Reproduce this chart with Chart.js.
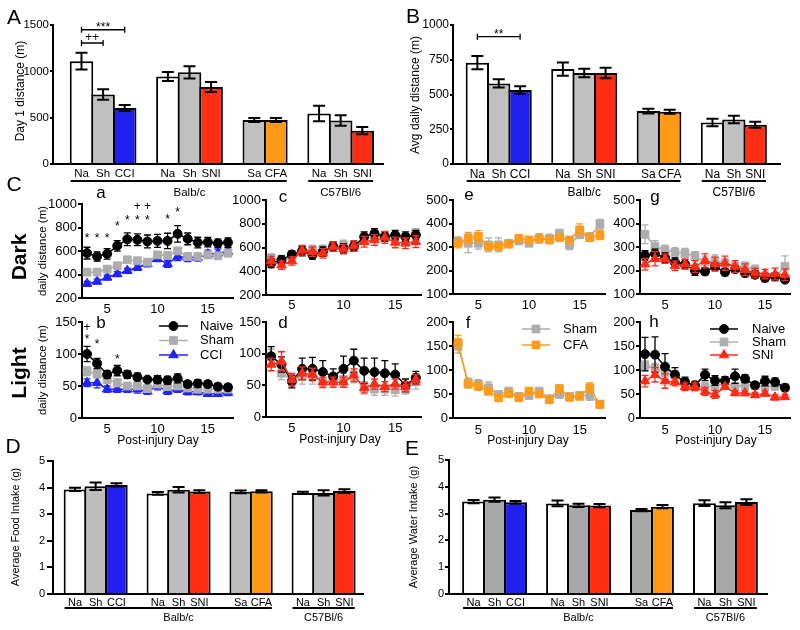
<!DOCTYPE html>
<html><head><meta charset="utf-8">
<script src="https://cdn.jsdelivr.net/npm/chart.js@4.4.1/dist/chart.umd.min.js"></script>
<style>
body{margin:0;background:#fff;}
#fig{position:relative;width:800px;height:630px;overflow:hidden;background:#fff;font-family:"Liberation Sans",Arial,Helvetica,sans-serif;}
#fig canvas{position:absolute;}
.t{position:absolute;white-space:nowrap;transform:translate(-50%,-50%);line-height:1;color:#000;}
.t.r{transform:translate(-50%,-50%) rotate(-90deg);}
</style></head><body><div id="fig"></div>
<script>
// ---------------- DATA ----------------
const barCats = ['Na','Sh','CCI','','Na','Sh','SNI','','Sa','CFA','','Na','Sh','SNI'];
const barGroups = [{name:'Balb/c', from:0, to:9, mid:5}, {name:'C57Bl/6', from:11, to:13, mid:12}];

const day1Dist = [1110, 750, 605, null, 945, 990, 830, null, 475, 475, null, 545, 470, 360];
const day1Err  = [90, 58, 32, null, 48, 66, 54, null, 21, 21, null, 83, 57, 40];
const avgDist  = [729, 580, 532, null, 683, 655, 655, null, 381, 376, null, 298, 321, 282];
const avgErr   = [48, 30, 27, null, 48, 30, 38, null, 17, 14, null, 27, 27, 22];
const foodIntake = [3.93, 4.05, 4.10, null, 3.78, 3.92, 3.85, null, 3.84, 3.86, null, 3.80, 3.80, 3.87];
const foodErr    = [0.06, 0.14, 0.06, null, 0.05, 0.10, 0.05, null, 0.05, 0.04, null, 0.04, 0.10, 0.07];
const waterIntake = [3.45, 3.52, 3.42, null, 3.38, 3.31, 3.30, null, 3.13, 3.26, null, 3.39, 3.31, 3.43];
const waterErr    = [0.06, 0.08, 0.05, null, 0.11, 0.06, 0.06, null, 0.04, 0.06, null, 0.11, 0.11, 0.11];

const bracketsA = [{from:0, to:2, v:1449, text:'***'}, {from:0, to:1, v:1306, text:'++'}];
const bracketsB = [{from:0, to:2, v:916, text:'**'}];

const days = [3,4,5,6,7,8,9,10,11,12,13,14,15,16,17];
// a: Dark, Balb/c CCI
const aNaive = [582, 553, 576, 644, 700, 695, 681, 686, 686, 746, 703, 672, 675, 666, 672];
const aNaiveErr = [50, 40, 45, 45, 55, 50, 55, 55, 65, 70, 50, 45, 40, 35, 40];
const aSham = [420, 420, 446, 474, 525, 517, 505, 567, 562, 601, 553, 553, 567, 559, 582];
const aShamErr = [25, 20, 20, 20, 20, 20, 20, 25, 25, 25, 25, 25, 25, 25, 30];
const aCCI = [322, 341, 375, 404, 432, 460, 491, 534, 491, 553, 545, 545, 573, 582, 596];
const aCCIErr = [20, 20, 20, 20, 20, 25, 25, 25, 30, 35, 35, 30, 35, 35, 30];
const aSig = [[3,736,'*'],[4,736,'*'],[5,736,'*'],[6,838,'*'],[7,889,'*'],[8,889,'*'],[9,889,'*'],[8,983,'+'],[9,983,'+'],[11,898,'*'],[12,957,'*']];
// b: Light, Balb/c CCI
const bNaive = [100, 85, 68, 74, 68, 64, 60, 60, 59, 62, 53, 54, 53, 49, 48];
const bNaiveErr = [12, 8, 6, 8, 6, 6, 4, 6, 6, 7, 5, 6, 5, 5, 5];
const bSham = [73, 69, 60, 55, 50, 50, 46, 53, 49, 50, 47, 45, 45, 45, 45];
const bShamErr = [7, 6, 6, 6, 5, 5, 5, 5, 5, 5, 5, 5, 5, 5, 5];
const bCCI = [55, 55, 45, 45, 45, 45, 42, 50, 42, 45, 41, 41, 38, 38, 40];
const bCCIErr = [6, 8, 5, 5, 5, 6, 5, 6, 5, 5, 5, 5, 4, 4, 5];
const bSig = [[3,142,'+'],[3,128,'*'],[4,120,'*'],[6,97,'*']];
// c: Dark, C57Bl/6 SNI
const cNaive = [466, 494, 542, 570, 537, 565, 607, 593, 607, 691, 719, 691, 705, 691, 705];
const cNaiveErr = [35, 35, 30, 40, 35, 40, 40, 40, 40, 40, 40, 40, 40, 40, 40];
const cSham = [508, 494, 522, 579, 579, 579, 607, 621, 607, 663, 691, 691, 677, 677, 719];
const cShamErr = [40, 40, 35, 40, 40, 40, 40, 40, 40, 40, 40, 40, 40, 40, 40];
const cSNI = [486, 452, 486, 576, 565, 551, 607, 587, 612, 649, 663, 685, 643, 635, 649];
const cSNIErr = [40, 35, 35, 40, 40, 40, 40, 40, 45, 45, 45, 50, 45, 45, 50];
// d: Light, C57Bl/6 SNI
const dNaive = [96, 83, 56, 76, 76, 71, 64, 76, 89, 73, 71, 69, 67, 50, 62];
const dNaiveErr = [15, 12, 10, 17, 18, 18, 12, 20, 18, 20, 22, 20, 17, 10, 10];
const dSham = [95, 69, 59, 64, 64, 56, 59, 59, 64, 46, 44, 44, 43, 44, 56];
const dShamErr = [12, 10, 10, 12, 12, 10, 10, 10, 10, 10, 10, 10, 10, 8, 12];
const dSNI = [83, 88, 59, 69, 67, 55, 55, 55, 66, 46, 52, 48, 52, 48, 59];
const dSNIErr = [10, 15, 10, 10, 10, 8, 8, 8, 10, 8, 8, 8, 8, 8, 8];
// e: Dark, Balb/c CFA
const eSham = [323, 316, 316, 309, 309, 316, 326, 316, 337, 335, 359, 309, 352, 345, 397];
const eShamErr = [20, 40, 25, 30, 30, 10, 15, 10, 20, 20, 15, 20, 15, 15, 20];
const eCFA = [316, 337, 345, 302, 302, 312, 337, 330, 335, 330, 340, 330, 373, 340, 352];
const eCFAErr = [20, 25, 25, 15, 15, 10, 10, 10, 10, 10, 15, 10, 25, 10, 20];
// f: Light, Balb/c CFA
const fSham = [150, 73, 70, 63, 49, 56, 45, 47, 56, 40, 49, 45, 47, 47, 29];
const fShamErr = [15, 10, 10, 12, 5, 5, 4, 5, 5, 4, 6, 5, 5, 10, 4];
const fCFA = [157, 71, 66, 56, 42, 51, 42, 56, 50, 38, 61, 43, 45, 63, 28];
const fCFAErr = [15, 8, 8, 8, 6, 5, 4, 7, 5, 4, 8, 5, 5, 10, 4];
// g: Dark, C57Bl/6 SNI
const gNaive = [264, 271, 255, 234, 227, 199, 196, 217, 193, 206, 189, 182, 168, 175, 161];
const gNaiveErr = [20, 20, 20, 20, 20, 20, 15, 15, 15, 15, 15, 15, 15, 15, 10];
const gSham = [354, 302, 288, 277, 274, 260, 236, 241, 231, 217, 217, 203, 175, 171, 217];
const gShamErr = [40, 25, 20, 20, 20, 20, 25, 25, 20, 20, 20, 20, 15, 15, 45];
const gSNI = [227, 250, 250, 220, 227, 217, 241, 227, 231, 217, 203, 189, 185, 185, 182];
const gSNIErr = [25, 30, 20, 20, 20, 25, 30, 30, 30, 25, 25, 20, 20, 25, 25];
// h: Light, C57Bl/6 SNI
const hNaive = [133, 132, 107, 90, 75, 68, 90, 78, 78, 87, 82, 68, 77, 75, 63];
const hNaiveErr = [35, 37, 27, 15, 10, 8, 12, 10, 8, 15, 8, 5, 10, 8, 5];
const hSham = [109, 104, 95, 89, 75, 65, 65, 66, 73, 65, 68, 68, 65, 66, 63];
const hShamErr = [10, 10, 12, 10, 8, 8, 8, 8, 8, 8, 8, 8, 8, 8, 8];
const hSNI = [77, 90, 77, 75, 65, 65, 55, 49, 65, 52, 52, 48, 51, 43, 44];
const hSNIErr = [12, 15, 15, 8, 8, 8, 8, 8, 5, 5, 5, 5, 5, 5, 5];

// ---------------- STYLE ----------------
const FONT = '"Liberation Sans", Arial, Helvetica, sans-serif';
const COL = {black:'#000000', gray:'#adadad', blue:'#2222ff', red:'#ff2b17', orange:'#ff9b1a'};
const fillAB = {Na:'#ffffff', Sh:'#c0c0c0', Sa:'#c0c0c0', CCI:'#2020f0', SNI:'#ff2d12', CFA:'#ff9a16'};
const fillD  = {Na:'#ffffff', Sh:'#bdbdbd', Sa:'#bdbdbd', CCI:'#2020f0', SNI:'#ff2d12', CFA:'#ff9a16'};
const fillE  = {Na:'#ffffff', Sh:'#a8a8a8', Sa:'#a8a8a8', CCI:'#2020f0', SNI:'#ff2d12', CFA:'#ff9a16'};
const STY = {
  naive:{color:COL.black, shape:'circle', r:4.5},
  sham:{color:COL.gray, shape:'rect', r:5.5},
  cci:{color:COL.blue, shape:'triangle', r:5.5},
  sni:{color:COL.red, shape:'triangle', r:5.5},
  cfa:{color:COL.orange, shape:'rect', r:5.5}
};

Chart.defaults.font.family = FONT;
Chart.defaults.color = '#000';
Chart.defaults.animation = false;
Chart.defaults.responsive = false;
Chart.defaults.devicePixelRatio = 1;
Chart.defaults.events = [];
Chart.defaults.plugins.legend.display = false;
Chart.defaults.plugins.tooltip.enabled = false;

const fig = document.getElementById('fig');

function makeChart(area, pad, config) {
  const W = Math.round(area.r - area.l + pad.l + pad.r), H = Math.round(area.b - area.t + pad.t + pad.b);
  const c = document.createElement('canvas');
  c.width = W; c.height = H;
  c.style.left = Math.round(area.l - pad.l) + 'px'; c.style.top = Math.round(area.t - pad.t) + 'px';
  c.style.width = W + 'px'; c.style.height = H + 'px';
  fig.appendChild(c);
  config.options.layout = {padding: {left: 0, top: pad.t, right: pad.r, bottom: 0}};
  config.options.scales.y.afterFit = s => { s.width = pad.l; };
  config.options.scales.x.afterFit = s => { s.height = pad.b; };
  return new Chart(c, config);
}

function textCenter(ctx, t, x, y, size) {
  const k = t.indexOf('*') >= 0 ? 0.58 : 0.36;
  ctx.textAlign = 'center'; ctx.textBaseline = 'alphabetic';
  ctx.fillText(t, x, y + k * size);
}

function errBarsPlugin(vals, errs, cap) {
  return {id:'errBars', afterDatasetsDraw(chart) {
    const ctx = chart.ctx, xs = chart.scales.x, ys = chart.scales.y;
    ctx.save(); ctx.strokeStyle = '#000'; ctx.lineWidth = 2;
    vals.forEach((v, i) => {
      if (v === null) return;
      const x = xs.getPixelForValue(i), y0 = ys.getPixelForValue(v - errs[i]), y1 = ys.getPixelForValue(v + errs[i]);
      ctx.beginPath();
      ctx.moveTo(x, y0); ctx.lineTo(x, y1);
      ctx.moveTo(x - cap, y0); ctx.lineTo(x + cap, y0);
      ctx.moveTo(x - cap, y1); ctx.lineTo(x + cap, y1);
      ctx.stroke();
    });
    ctx.restore();
  }};
}

function groupPlugin(lineOff, textOff, size) {
  return {id:'groups', afterDraw(chart) {
    const ctx = chart.ctx, xs = chart.scales.x, b = chart.chartArea.bottom;
    const half = (xs.getPixelForValue(1) - xs.getPixelForValue(0)) / 2;
    ctx.save(); ctx.strokeStyle = '#000'; ctx.lineWidth = 2; ctx.fillStyle = '#000';
    ctx.font = size + 'px ' + FONT; ctx.textAlign = 'center'; ctx.textBaseline = 'middle';
    barGroups.forEach(g => {
      const x0 = xs.getPixelForValue(g.from) - half, x1 = xs.getPixelForValue(g.to) + half;
      ctx.beginPath(); ctx.moveTo(x0, b + lineOff); ctx.lineTo(x1, b + lineOff); ctx.stroke();
      ctx.fillText(g.name, xs.getPixelForValue(g.mid), b + textOff);
    });
    ctx.restore();
  }};
}

function bracketPlugin(brs, size) {
  return {id:'brackets', afterDraw(chart) {
    const ctx = chart.ctx, xs = chart.scales.x, ys = chart.scales.y;
    ctx.save(); ctx.strokeStyle = '#000'; ctx.lineWidth = 1.3; ctx.fillStyle = '#000';
    ctx.font = size + 'px ' + FONT;
    brs.forEach(br => {
      const x0 = xs.getPixelForValue(br.from), x1 = xs.getPixelForValue(br.to), y = ys.getPixelForValue(br.v);
      ctx.beginPath(); ctx.moveTo(x0, y); ctx.lineTo(x1, y);
      ctx.moveTo(x0, y - 3); ctx.lineTo(x0, y + 3); ctx.moveTo(x1, y - 3); ctx.lineTo(x1, y + 3);
      ctx.stroke();
      textCenter(ctx, br.text, (x0 + x1) / 2, y - 6, size);
    });
    ctx.restore();
  }};
}

function barChart(o) {
  const pts = [], bg = [];
  barCats.forEach((c, i) => { if (o.vals[i] !== null) { pts.push({x: i, y: o.vals[i]}); bg.push(o.fill[c]); } });
  const labelIdx = barCats.map((c, i) => c ? i : -1).filter(i => i >= 0);
  const plugins = [errBarsPlugin(o.vals, o.errs, o.cap), groupPlugin(o.lineOff, o.textOff, o.groupFont)];
  if (o.brackets) plugins.push(bracketPlugin(o.brackets, o.brFont));
  makeChart(o.area, o.pad, {
    type: 'bar',
    data: {datasets: [{data: pts, backgroundColor: bg, borderColor: '#000', borderWidth: 2,
      barPercentage: o.barPct, categoryPercentage: 1}]},
    options: {
      scales: {
        x: {type: 'linear', min: o.xMin, max: o.xMax, offset: false,
            grid: {display: false, drawTicks: false, offset: false}, border: {display: true, color: '#000', width: 2},
            afterBuildTicks: s => { s.ticks = labelIdx.map(v => ({value: v})); },
            ticks: {autoSkip: false, maxRotation: 0, padding: o.xPad, font: {size: o.labFont}, color: '#000',
                    callback: v => barCats[v]}},
        y: {min: 0, max: o.yMax,
            ticks: {stepSize: o.yStep, font: {size: o.tickFont}, color: '#000', padding: o.yTickPad, callback: v => String(v)},
            grid: {drawOnChartArea: false, drawTicks: true, tickLength: o.yTickLen, color: '#000', lineWidth: 2},
            border: {display: true, color: '#000', width: 2}}
      }
    },
    plugins
  });
}

function drawMarker(ctx, shape, x, y, r, color) {
  ctx.fillStyle = color; ctx.strokeStyle = color; ctx.lineWidth = 1;
  ctx.beginPath();
  if (shape === 'circle') { ctx.arc(x, y, r, 0, Math.PI * 2); }
  else if (shape === 'rect') { const s = r * Math.SQRT1_2; ctx.rect(x - s, y - s, 2 * s, 2 * s); }
  else { ctx.moveTo(x, y - r); ctx.lineTo(x + 0.866 * r, y + 0.5 * r); ctx.lineTo(x - 0.866 * r, y + 0.5 * r); ctx.closePath(); }
  ctx.fill(); ctx.stroke();
}

const lineErrPlugin = {id:'lineErr', beforeDatasetDraw(chart, args) {
  const ds = chart.data.datasets[args.index], ys = chart.scales.y, ctx = chart.ctx;
  ctx.save(); ctx.strokeStyle = ds.borderColor; ctx.lineWidth = 1.3;
  args.meta.data.forEach((pt, i) => {
    const v = ds.data[i].y, e = ds.err[i];
    const y0 = ys.getPixelForValue(v - e), y1 = ys.getPixelForValue(v + e), x = pt.x;
    ctx.beginPath();
    ctx.moveTo(x, y0); ctx.lineTo(x, y1);
    ctx.moveTo(x - 3.5, y0); ctx.lineTo(x + 3.5, y0);
    ctx.moveTo(x - 3.5, y1); ctx.lineTo(x + 3.5, y1);
    ctx.stroke();
  });
  ctx.restore();
}};

function sigPlugin(marks, size) {
  return {id:'sig', afterDatasetsDraw(chart) {
    const ctx = chart.ctx, xs = chart.scales.x, ys = chart.scales.y;
    ctx.save(); ctx.fillStyle = '#000'; ctx.font = size + 'px ' + FONT;
    marks.forEach(m => textCenter(ctx, m[2], xs.getPixelForValue(m[0]), ys.getPixelForValue(m[1]), size));
    ctx.restore();
  }};
}

function legendPlugin(order, lx0, lx1, tx, rows, size) {
  return {id:'lg', afterDraw(chart) {
    const ca = chart.chartArea, ctx = chart.ctx;
    ctx.save();
    order.forEach((di, k) => {
      const ds = chart.data.datasets[di], y = ca.top + rows[k];
      ctx.strokeStyle = ds.borderColor; ctx.lineWidth = 1.5;
      ctx.beginPath(); ctx.moveTo(ca.left + lx0, y); ctx.lineTo(ca.left + lx1, y); ctx.stroke();
      drawMarker(ctx, ds.pointStyle, ca.left + (lx0 + lx1) / 2, y, ds.pointRadius, ds.borderColor);
      ctx.fillStyle = '#000'; ctx.font = size + 'px ' + FONT; ctx.textAlign = 'left'; ctx.textBaseline = 'middle';
      ctx.fillText(ds.label, ca.left + tx, y);
    });
    ctx.restore();
  }};
}

function lineChart(o) {
  const datasets = o.series.map(s => ({
    label: s.label, data: days.map((d, i) => ({x: d, y: s.vals[i]})), err: s.errs,
    borderColor: s.sty.color, backgroundColor: s.sty.color, pointBackgroundColor: s.sty.color,
    pointBorderColor: s.sty.color, pointStyle: s.sty.shape, pointRadius: s.sty.r, pointBorderWidth: 1,
    borderWidth: 1.5, tension: 0, clip: false
  }));
  const plugins = [lineErrPlugin];
  if (o.sig) plugins.push(sigPlugin(o.sig, 12));
  if (o.legend) plugins.push(legendPlugin(o.legend.order, o.legend.x0, o.legend.x1, o.legend.tx, o.legend.rows, 13));
  makeChart(o.area, {l: 50, t: 12, r: 45, b: 22}, {
    type: 'line',
    data: {datasets},
    options: {
      scales: {
        x: {type: 'linear', min: 2.5, max: 17.5, offset: false,
            grid: {display: false, drawTicks: false}, border: {display: true, color: '#000', width: 2},
            afterBuildTicks: s => { s.ticks = [5, 10, 15].map(v => ({value: v})); },
            ticks: {autoSkip: false, maxRotation: 0, padding: o.xPad, font: {size: 13}, color: '#000'}},
        y: {min: o.yMin, max: o.yMax,
            ticks: {stepSize: o.yStep, font: {size: 13}, color: '#000', padding: 1, callback: v => String(v)},
            grid: {drawOnChartArea: false, drawTicks: true, tickLength: 4, color: '#000', lineWidth: 2},
            border: {display: true, color: '#000', width: 2}}
      }
    },
    plugins
  });
}

// ---------------- BAR PANELS ----------------
barChart({area:{l:53,t:25,r:383,b:164}, pad:{l:53,t:20,r:10,b:40}, vals:day1Dist, errs:day1Err, fill:fillAB,
  xMin:-1.32, xMax:13.96, yMax:1500, yStep:500, tickFont:11.5, labFont:11.5, xPad:3, yTickLen:3, yTickPad:1,
  cap:6, barPct:1.09, lineOff:17, textOff:29, groupFont:11.5, brackets:bracketsA, brFont:12});
barChart({area:{l:453,t:25,r:780,b:164}, pad:{l:60,t:20,r:10,b:40}, vals:avgDist, errs:avgErr, fill:fillAB,
  xMin:-1.14, xMax:14.16, yMax:1000, yStep:250, tickFont:12, labFont:12, xPad:3, yTickLen:3, yTickPad:1,
  cap:6, barPct:1.09, lineOff:17, textOff:29, groupFont:12, brackets:bracketsB, brFont:12});
barChart({area:{l:53,t:461,r:363,b:594}, pad:{l:53,t:12,r:10,b:34}, vals:foodIntake, errs:foodErr, fill:fillD,
  xMin:-1.06, xMax:13.9, yMax:5, yStep:1, tickFont:11, labFont:11, xPad:2, yTickLen:6, yTickPad:2,
  cap:6, barPct:1.09, lineOff:14, textOff:24, groupFont:11});
barChart({area:{l:449,t:460,r:767,b:594}, pad:{l:60,t:12,r:10,b:34}, vals:waterIntake, errs:waterErr, fill:fillE,
  xMin:-1.17, xMax:13.98, yMax:5, yStep:1, tickFont:11, labFont:11, xPad:2, yTickLen:4, yTickPad:1,
  cap:6, barPct:1.09, lineOff:14, textOff:24, groupFont:11});

// ---------------- LINE PANELS ----------------
lineChart({area:{l:82,t:204,r:233,b:298}, yMin:200, yMax:1000, yStep:200, xPad:4, sig:aSig,
  series:[{label:'Naive', vals:aNaive, errs:aNaiveErr, sty:STY.naive},
          {label:'Sham', vals:aSham, errs:aShamErr, sty:STY.sham},
          {label:'CCI', vals:aCCI, errs:aCCIErr, sty:STY.cci}]});
lineChart({area:{l:82,t:322,r:233,b:418}, yMin:0, yMax:150, yStep:50, xPad:4, sig:bSig,
  series:[{label:'Naive', vals:bNaive, errs:bNaiveErr, sty:STY.naive},
          {label:'Sham', vals:bSham, errs:bShamErr, sty:STY.sham},
          {label:'CCI', vals:bCCI, errs:bCCIErr, sty:STY.cci}],
  legend:{order:[0,1,2], x0:77, x1:106, tx:118, rows:[4,18.5,33]}});
lineChart({area:{l:266,t:200,r:421,b:295}, yMin:200, yMax:1000, yStep:200, xPad:3,
  series:[{label:'SNI', vals:cSNI, errs:cSNIErr, sty:STY.sni},
          {label:'Naive', vals:cNaive, errs:cNaiveErr, sty:STY.naive},
          {label:'Sham', vals:cSham, errs:cShamErr, sty:STY.sham}]});
lineChart({area:{l:266,t:322,r:421,b:417}, yMin:0, yMax:150, yStep:50, xPad:4,
  series:[{label:'SNI', vals:dSNI, errs:dSNIErr, sty:STY.sni},
          {label:'Naive', vals:dNaive, errs:dNaiveErr, sty:STY.naive},
          {label:'Sham', vals:dSham, errs:dShamErr, sty:STY.sham}]});
lineChart({area:{l:453,t:200,r:605,b:294}, yMin:100, yMax:500, yStep:100, xPad:4,
  series:[{label:'CFA', vals:eCFA, errs:eCFAErr, sty:STY.cfa},
          {label:'Sham', vals:eSham, errs:eShamErr, sty:STY.sham}]});
lineChart({area:{l:453,t:322,r:605,b:418}, yMin:0, yMax:200, yStep:50, xPad:5,
  series:[{label:'CFA', vals:fCFA, errs:fCFAErr, sty:STY.cfa},
          {label:'Sham', vals:fSham, errs:fShamErr, sty:STY.sham}],
  legend:{order:[1,0], x0:69, x1:97, tx:110, rows:[7,23]}});
lineChart({area:{l:640,t:200,r:790,b:294}, yMin:100, yMax:500, yStep:100, xPad:4,
  series:[{label:'SNI', vals:gSNI, errs:gSNIErr, sty:STY.sni},
          {label:'Naive', vals:gNaive, errs:gNaiveErr, sty:STY.naive},
          {label:'Sham', vals:gSham, errs:gShamErr, sty:STY.sham}]});
lineChart({area:{l:640,t:322,r:790,b:418}, yMin:0, yMax:200, yStep:50, xPad:5,
  series:[{label:'SNI', vals:hSNI, errs:hSNIErr, sty:STY.sni},
          {label:'Naive', vals:hNaive, errs:hNaiveErr, sty:STY.naive},
          {label:'Sham', vals:hSham, errs:hShamErr, sty:STY.sham}],
  legend:{order:[1,2,0], x0:70, x1:98, tx:112, rows:[7,20,33]}});

// ---------------- TEXT LABELS ----------------
const texts = [
  ['A',14,16,21,0,0],['B',413,15,21,0,0],['C',14,183,21,0,0],['D',13,445,21,0,0],['E',412,447,21,0,0],
  ['a',101,192,17,0,0],['b',101,322,17,0,0],['c',283,196,17,0,0],['d',283,322,17,0,0],
  ['e',469,194,17,0,0],['f',468,322,17,0,0],['g',655,196,17,0,0],['h',654,321,17,0,0],
  ['Dark',18,257,21,1,1],['Light',18,373,21,1,1],
  ['Day 1 distance (m)',20,91,12,0,1],['Avg daily distance (m)',415,95,12,0,1],
  ['daily distance (m)',43,251,11.5,0,1],['daily distance (m)',43,370,11.5,0,1],
  ['Average Food Intake (g)',15,527,11,0,1],['Average Water Intake (g)',413,527,11,0,1],
  ['Post-injury Day',158,440,12,0,0],['Post-injury Day',340,439,12,0,0],
  ['Post-injury Day',528,440,12,0,0],['Post-injury Day',716,440,12,0,0]
];
texts.forEach(([s, x, y, size, bold, rot]) => {
  const d = document.createElement('div');
  d.className = 't' + (rot ? ' r' : '');
  d.textContent = s;
  d.style.left = x + 'px'; d.style.top = y + 'px';
  d.style.fontSize = size + 'px';
  if (bold) d.style.fontWeight = 'bold';
  fig.appendChild(d);
});
</script></body></html>
